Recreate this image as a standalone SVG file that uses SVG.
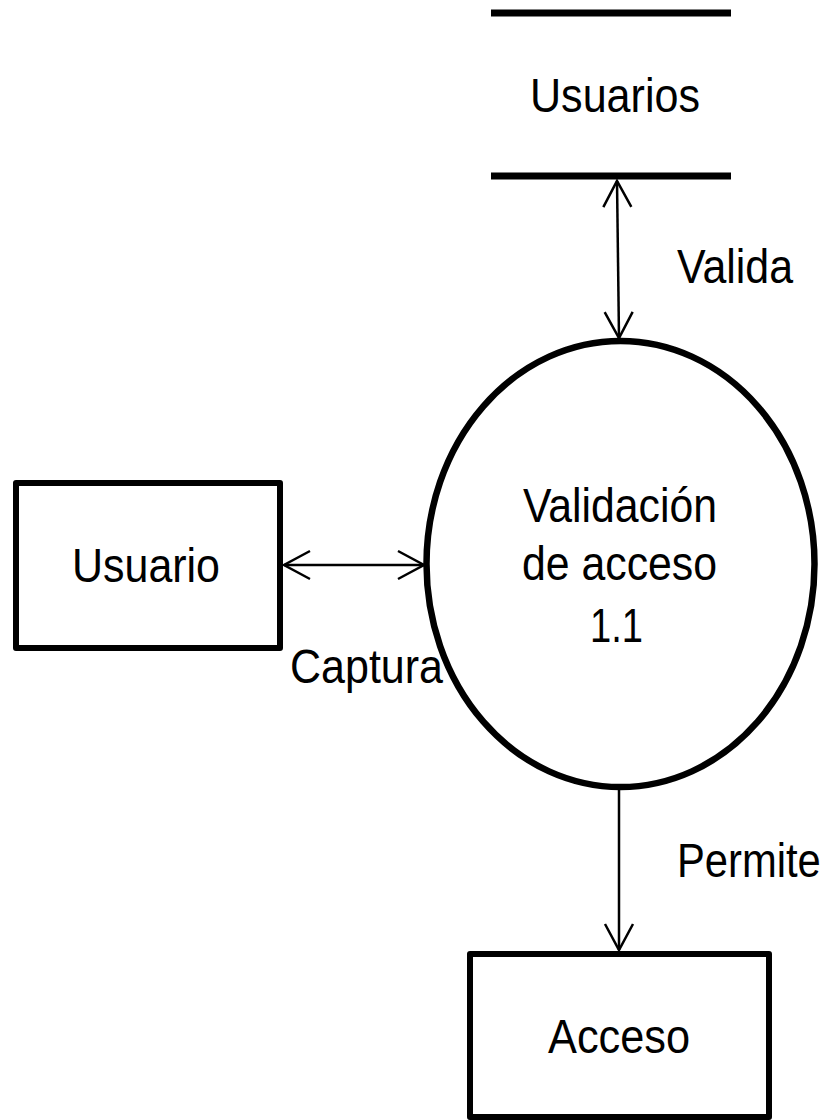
<svg xmlns="http://www.w3.org/2000/svg" width="830" height="1120" viewBox="0 0 830 1120">
<style>
  .lbl { font-family: "Liberation Sans", Arial, sans-serif; font-size: 48px; fill: #000; }
  .box { fill: #fff; stroke: #000; stroke-width: 6; stroke-linejoin: round; }
  .bubble { fill: #fff; stroke: #000; stroke-width: 6.5; }
  .store { stroke: #000; stroke-width: 7; }
  .flow { fill: none; stroke: #000; stroke-width: 2.5; }
</style>
<defs>
  <marker id="arr" markerUnits="userSpaceOnUse" markerWidth="40" markerHeight="40" viewBox="-30 -20 40 40" refX="0" refY="0" orient="auto-start-reverse">
    <path d="M-26,-14 L0,0 L-26,14" fill="none" stroke="#000" stroke-width="2.5" stroke-linejoin="miter"/>
  </marker>
</defs>
<rect width="830" height="1120" fill="#fff"/>

<g id="connectors">
  <line class="flow" x1="617" y1="181" x2="619" y2="338" marker-start="url(#arr)" marker-end="url(#arr)"/>
  <line class="flow" x1="284" y1="565" x2="424" y2="565" marker-start="url(#arr)" marker-end="url(#arr)"/>
  <line class="flow" x1="619" y1="788" x2="619" y2="950" marker-end="url(#arr)"/>
  <text class="lbl" x="677" y="283" textLength="116" lengthAdjust="spacingAndGlyphs">Valida</text>
  <text class="lbl" x="290" y="683" textLength="153" lengthAdjust="spacingAndGlyphs">Captura</text>
  <text class="lbl" transform="translate(677,877) scale(0.87,1)" x="0" y="0">Permite</text>
</g>

<g id="store-usuarios">
  <line class="store" x1="491" y1="13" x2="731" y2="13"/>
  <line class="store" x1="491" y1="176" x2="731" y2="176"/>
  <text class="lbl" x="530" y="112" textLength="170" lengthAdjust="spacingAndGlyphs">Usuarios</text>
</g>

<g id="proc-validacion">
  <ellipse class="bubble" cx="620.5" cy="564" rx="194" ry="223"/>
  <text class="lbl" x="523" y="522" textLength="194" lengthAdjust="spacingAndGlyphs">Validación</text>
  <text class="lbl" x="522" y="580" textLength="195" lengthAdjust="spacingAndGlyphs">de acceso</text>
  <text class="lbl" x="590" y="642" textLength="53" lengthAdjust="spacingAndGlyphs">1.1</text>
</g>

<g id="ext-usuario">
  <rect class="box" x="16" y="483" width="264" height="165"/>
  <text class="lbl" x="72" y="582" textLength="148" lengthAdjust="spacingAndGlyphs">Usuario</text>
</g>

<g id="ext-acceso">
  <rect class="box" x="470" y="954" width="299" height="163"/>
  <text class="lbl" x="548" y="1053" textLength="142" lengthAdjust="spacingAndGlyphs">Acceso</text>
</g>
</svg>
